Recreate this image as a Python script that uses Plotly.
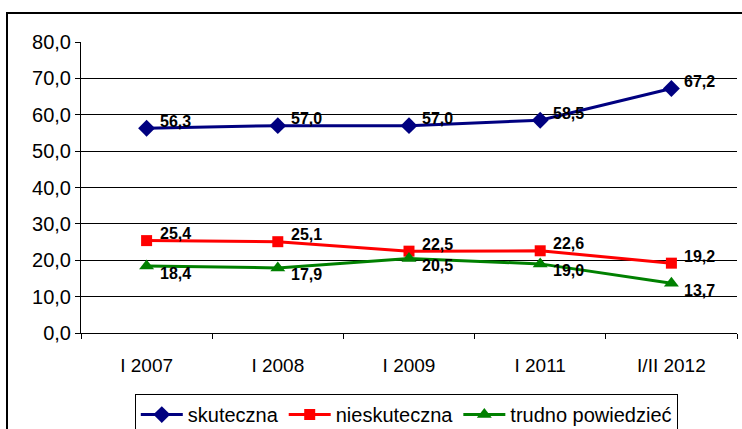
import plotly.graph_objects as go

categories = ["I 2007", "I 2008", "I 2009", "I 2011", "I/II 2012"]
skuteczna = [56.3, 57.0, 57.0, 58.5, 67.2]
nieskuteczna = [25.4, 25.1, 22.5, 22.6, 19.2]
trudno = [18.4, 17.9, 20.5, 19.0, 13.7]
y_ticks = [0, 10, 20, 30, 40, 50, 60, 70, 80]

series = [
    ("skuteczna", skuteczna, "#000080", "diamond", 13, 7),
    ("nieskuteczna", nieskuteczna, "#FF0000", "square", 11, 7),
    ("trudno powiedzieć", trudno, "#008000", "triangle-up", 13, -7),
]

FONT = "Liberation Sans, Arial, sans-serif"

fig = go.Figure()
annotations = []
for name, vals, color, sym, msize, ysh in series:
    fig.add_trace(go.Scatter(
        x=categories, y=vals, name=name, mode="lines+markers",
        line=dict(color=color, width=3),
        marker=dict(symbol=sym, size=msize, color=color),
    ))
    for c, v in zip(categories, vals):
        annotations.append(dict(
            x=c, y=v, xref="x", yref="y", text=f"{v:.1f}".replace(".", ","),
            showarrow=False, xanchor="left", yanchor="middle",
            xshift=11, yshift=ysh,
            font=dict(family=FONT, size=16, color="#000000", weight="bold"),
        ))

fig.update_layout(
    width=742, height=429,
    margin=dict(l=81, r=5, t=42, b=96, autoexpand=False),
    paper_bgcolor="white", plot_bgcolor="white",
    separators=", ",
    font=dict(family=FONT, size=20, color="#000000"),
    annotations=annotations,
    showlegend=True,
    legend=dict(
        orientation="h", x=0.082, xanchor="left", y=-0.21, yanchor="top",
        bordercolor="#000000", borderwidth=1, bgcolor="white",
        font=dict(family=FONT, size=20, color="#000000"),
        itemwidth=42, tracegroupgap=0,
    ),
    shapes=[dict(
        type="rect", xref="paper", yref="paper",
        x0=-0.1128, x1=1.2, y0=-0.6, y1=1.1,
        line=dict(color="#000000", width=2), fillcolor="rgba(0,0,0,0)",
        layer="below",
    )],
)

fig.update_xaxes(
    type="category", range=[-0.5, len(categories) - 0.5],
    showgrid=False, showline=True, linecolor="#000000", linewidth=1,
    ticks="outside", tickson="boundaries", ticklen=5, tickcolor="#000000",
    tickfont=dict(family=FONT, size=19), zeroline=False, automargin=False,
    ticklabelstandoff=15,
)
fig.update_yaxes(
    range=[0, 80], tickvals=y_ticks, tickformat=".1f",
    showgrid=True, gridcolor="#000000", gridwidth=1,
    showline=True, linecolor="#000000", linewidth=1,
    ticks="outside", ticklen=5, tickcolor="#000000",
    tickfont=dict(family=FONT, size=20), zeroline=False, automargin=False,
)

fig.write_html(
    "out.html",
    config={"displayModeBar": False},
    post_script="document.body.style.margin='0';document.body.style.overflow='hidden';",
)
